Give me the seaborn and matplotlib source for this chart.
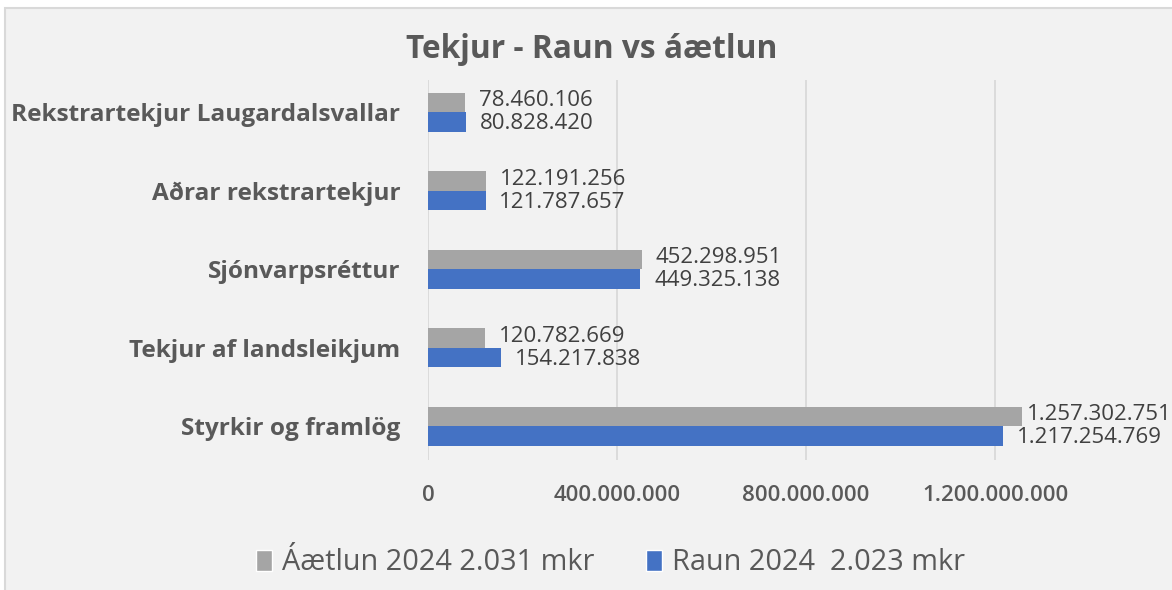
import pandas as pd
import matplotlib.pyplot as plt
import seaborn as sns
from matplotlib.patches import Rectangle

# Gögn lesin af myndinni
flokkar = [
    "Rekstrartekjur Laugardalsvallar",
    "Aðrar rekstrartekjur",
    "Sjónvarpsréttur",
    "Tekjur af landsleikjum",
    "Styrkir og framlög",
]
aaetlun = [78460106, 122191256, 452298951, 120782669, 1257302751]
raun = [80828420, 121787657, 449325138, 154217838, 1217254769]
radir = ["Áætlun 2024 2.031 mkr", "Raun 2024  2.023 mkr"]
x_ticks = [0, 400000000, 800000000, 1200000000]

GRAR = "#a5a5a5"
BLAR = "#4472c4"
TEXTI = "#595959"


def punktar(v):
    return f"{v:,}".replace(",", ".")


df = pd.DataFrame({
    "Flokkur": flokkar * 2,
    "Upphæð": aaetlun + raun,
    "Röð": [radir[0]] * len(flokkar) + [radir[1]] * len(flokkar),
})

sns.set_style("white")
plt.rcParams["font.family"] = ["Open Sans", "DejaVu Sans"]

fig = plt.figure(figsize=(11.72, 5.9), dpi=100)
fig.patches.append(Rectangle((5 / 1172, -0.01), 1.0, 0.9964, transform=fig.transFigure,
                             facecolor="#f2f2f2", edgecolor="#d9d9d9", linewidth=1.5, zorder=-10))

ax = fig.add_axes([428 / 1172, 1 - 460 / 590, 1 - 428 / 1172, (460 - 80) / 590])
ax.set_facecolor("none")

sns.barplot(data=df, y="Flokkur", x="Upphæð", hue="Röð", orient="h",
            palette=[GRAR, BLAR], width=0.5, saturation=1, legend=False, ax=ax)

# gildismerki: grá aðeins ofar, blá aðeins neðar svo þau skarist ekki
for cont, gildi, dy in zip(ax.containers, [aaetlun, raun], [1.2, -1.2]):
    for bar in cont:
        bar.set_edgecolor("none")
    merki = ax.bar_label(cont, labels=[punktar(v) for v in gildi], padding=10,
                         fontsize=16, color="#404040")
    for m in merki:
        m.xyann = (10, dy)

# stærsta merkið fær minna bil svo það komist fyrir (eins og í frumriti)
ax.texts[4].xyann = (3.5, 1.2)

ax.set_xlim(0, 744 / 189 * 400000000)
ax.set_ylim(4.43, -0.41)
ax.set_xticks(x_ticks)
ax.set_xticklabels([punktar(v) for v in x_ticks], fontweight="semibold", fontsize=16, color=TEXTI)
ax.tick_params(axis="x", length=0, pad=18)
ax.tick_params(axis="y", length=0, pad=20, labelsize=17.6, labelcolor=TEXTI)
for lbl in ax.get_yticklabels():
    lbl.set_fontweight("bold")
ax.set_xlabel("")
ax.set_ylabel("")
ax.grid(axis="x", color="#d9d9d9", linewidth=1.3)
ax.set_axisbelow(True)
for s in ax.spines.values():
    s.set_visible(False)

fig.text(0.505, 1 - 49 / 590, "Tekjur - Raun vs áætlun", ha="center", va="center",
         fontsize=22.8, fontweight="bold", color=TEXTI)

handles = [Rectangle((0, 0), 1, 1, facecolor=c) for c in [GRAR, BLAR]]
fig.legend(handles, radir, loc="center", bbox_to_anchor=(0.521, 1 - 563 / 590), ncol=2,
           frameon=False, fontsize=20.8, labelcolor=TEXTI, handlelength=0.55, handleheight=0.75,
           handletextpad=0.35, columnspacing=1.8)

fig.savefig("out.png", dpi=100)
